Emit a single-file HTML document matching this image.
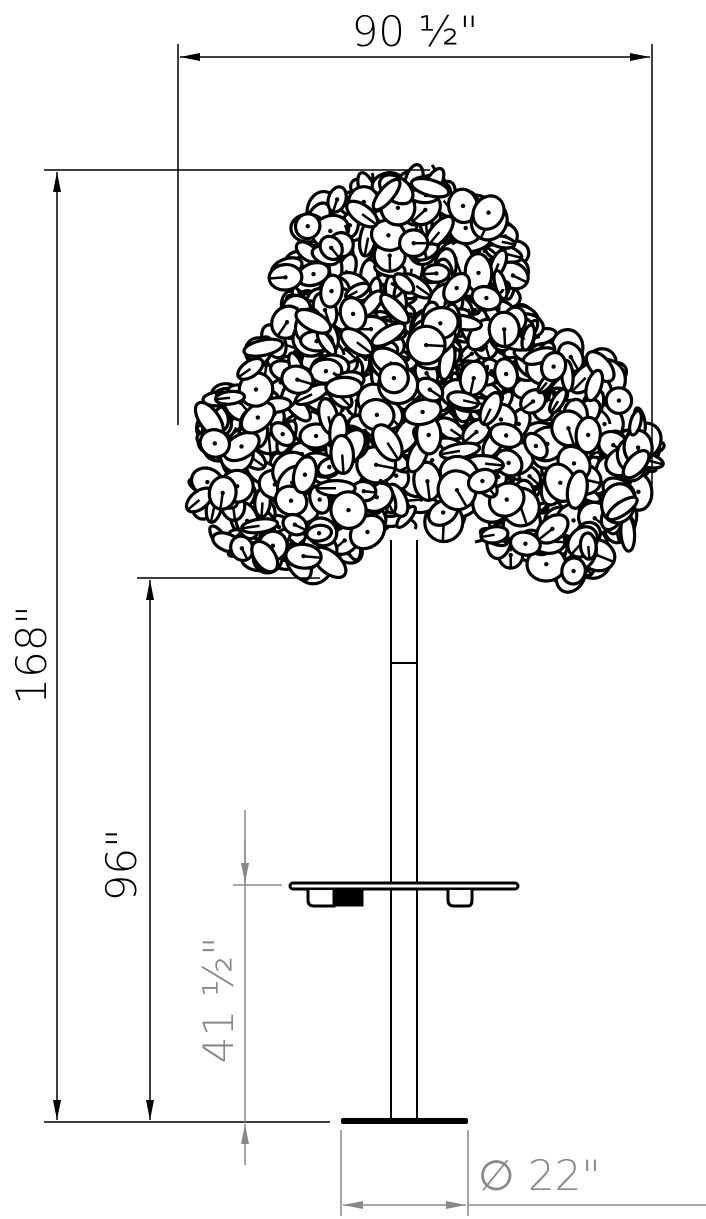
<!DOCTYPE html>
<html><head><meta charset="utf-8"><style>
html,body{margin:0;padding:0;background:#fff;width:706px;height:1219px;overflow:hidden}
svg{display:block}
text{font-family:"DejaVu Sans","Liberation Sans",sans-serif;font-weight:300}
</style></head><body>
<svg id="s" width="706" height="1219" viewBox="0 0 706 1219" xmlns="http://www.w3.org/2000/svg">
<defs>
<marker id="a" viewBox="0 0 20 10" refX="20" refY="5" markerWidth="20" markerHeight="10" markerUnits="userSpaceOnUse" orient="auto"><path d="M0,1 L20,5 L0,9 z" fill="#000"/></marker>
<marker id="g" viewBox="0 0 20 10" refX="20" refY="5" markerWidth="20" markerHeight="10" markerUnits="userSpaceOnUse" orient="auto"><path d="M0,1 L20,5 L0,9 z" fill="#888"/></marker>
</defs>
<g stroke="#000" stroke-width="2" fill="none">
<line x1="391" y1="540" x2="391" y2="1120"/>
<line x1="417" y1="540" x2="417" y2="1120"/>
<line x1="391" y1="663" x2="417" y2="663"/>
</g>
<g stroke="#000" stroke-width="3" fill="#fff">
<rect x="290" y="883" width="228" height="6" rx="3"/>
<path d="M308,890 v10 q0,6 6,6 h20 v-16" />
<rect x="334" y="890" width="28" height="15" fill="#000"/>
<path d="M448,890 v10 q0,6 6,6 h14 q4,0 4,-6 v-10"/>
</g>
<rect x="341" y="1118" width="127" height="6" rx="2" fill="#000"/>
<g id="leaves"></g>
<g stroke="#000" stroke-width="1.5" fill="none">
<line x1="178" y1="44" x2="178" y2="425"/>
<line x1="652" y1="44" x2="652" y2="492"/>
<line x1="415" y1="57" x2="180" y2="57" marker-end="url(#a)"/>
<line x1="415" y1="57" x2="650" y2="57" marker-end="url(#a)"/>
<line x1="44" y1="170" x2="430" y2="170"/>
<line x1="44" y1="1122" x2="330" y2="1122"/>
<line x1="57" y1="640" x2="57" y2="172" marker-end="url(#a)"/>
<line x1="57" y1="640" x2="57" y2="1120" marker-end="url(#a)"/>
<line x1="137" y1="578" x2="320" y2="578"/>
<line x1="150" y1="850" x2="150" y2="580" marker-end="url(#a)"/>
<line x1="150" y1="850" x2="150" y2="1120" marker-end="url(#a)"/>
</g>
<g stroke="#888" stroke-width="1.5" fill="none">
<line x1="233" y1="885" x2="282" y2="885"/>
<line x1="245" y1="810" x2="245" y2="1122"/>
<line x1="245" y1="840" x2="245" y2="883" marker-end="url(#g)"/>
<line x1="245" y1="1165" x2="245" y2="1124" marker-end="url(#g)"/>
<line x1="341" y1="1130" x2="341" y2="1216"/>
<line x1="468" y1="1130" x2="468" y2="1216"/>
<line x1="405" y1="1205" x2="343" y2="1205" marker-end="url(#g)"/>
<line x1="405" y1="1205" x2="466" y2="1205" marker-end="url(#g)"/>
<line x1="468" y1="1205" x2="706" y2="1205"/>
</g>
<text x="415" y="46" font-size="42" text-anchor="middle">90 ½"</text>
<text transform="translate(46,655) rotate(-90)" font-size="42" text-anchor="middle">168"</text>
<text transform="translate(136,865) rotate(-90)" font-size="42" text-anchor="middle">96"</text>
<text transform="translate(233,1000) rotate(-90)" font-size="42" text-anchor="middle" fill="#888">41 ½"</text>
<text x="478" y="1190" font-size="42" fill="#888">∅ 22"</text>
</svg>
<script>
(function(){
var s=12345;function r(){s=(s*16807)%2147483647;return s/2147483647;}
var lobes=[[400,272,118,92],[400,272,118,92],[292,465,105,105],[292,465,105,105],[560,462,88,115],[560,462,88,115],[415,420,80,115],[330,350,70,50],[480,360,70,50]];
var g=document.getElementById('leaves'),h='';
for(var i=0;i<1000;i++){
 var L=lobes[i%lobes.length];var a=r()*6.283,d=Math.sqrt(r());
 var x=L[0]+Math.cos(a)*L[2]*d,y=L[1]+Math.sin(a)*L[3]*d;
 if(y>590)continue;
 var rr=12+r()*8,sq=0.35+r()*0.65,rot=r()*180;
 if(r()<0.35){var x2=x+(r()-.5)*40,y2=y+(r()-.5)*40;h+='<path d="M'+x.toFixed(0)+','+y.toFixed(0)+' Q'+((x+x2)/2+8).toFixed(0)+','+((y+y2)/2).toFixed(0)+' '+x2.toFixed(0)+','+y2.toFixed(0)+'" stroke="#000" stroke-width="3" fill="none"/>';}
 h+='<g transform="translate('+x.toFixed(1)+','+y.toFixed(1)+') rotate('+rot.toFixed(0)+')">';
 h+='<ellipse rx="'+rr.toFixed(1)+'" ry="'+(rr*sq).toFixed(1)+'" fill="#fff" stroke="#000" stroke-width="3.2"/>';
 if(r()<0.4)h+='<line x1="0" y1="0" x2="'+(rr).toFixed(1)+'" y2="0" stroke="#000" stroke-width="2.5"/>';
 if(sq>0.6)h+='<circle r="2.2" fill="#000"/>';
 h+='</g>';
}
g.innerHTML=h;
})();
</script>
</body></html>
